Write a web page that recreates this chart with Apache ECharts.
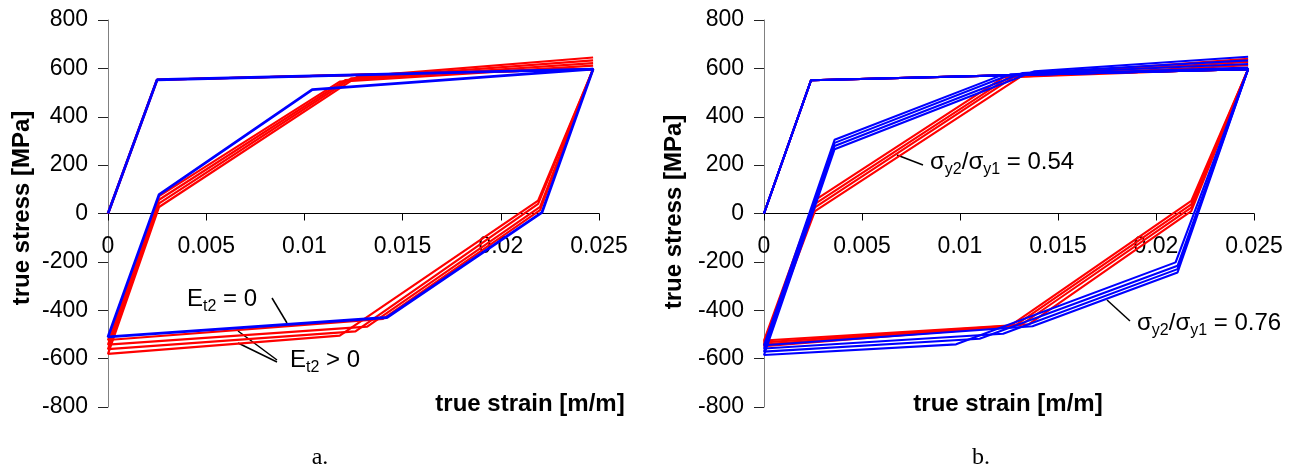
<!DOCTYPE html>
<html><head><meta charset="utf-8">
<script src="https://cdn.jsdelivr.net/npm/echarts@6/dist/echarts.min.js"></script>
<style>html,body{margin:0;padding:0;background:#fff}#c{width:1299px;height:472px}</style>
</head><body><div id="c"></div>
<script>
// tick labels
const xTickLabels = ['0', '0.005', '0.01', '0.015', '0.02', '0.025'];
const yTickLabels = ['-800', '-600', '-400', '-200', '0', '200', '400', '600', '800'];

// chart a: [true strain, true stress] points, Et2 = 0 (blue) and Et2 > 0 (red)
const aBlue = [[0,0],[0.0025,553],[0.0247,597],[0.0221,5],[0.0142,-430],[0,-510],[0.0026,78],[0.0104,512],[0.0247,597]];
const aRed1 = [[0,0],[0.0025,553],[0.0247,597],[0.0220,14],[0.0140,-436],[0,-523],[0.0026,72],[0.0118,545],[0.0247,611]];
const aRed2 = [[0,0],[0.0025,553],[0.0247,597],[0.0220,27],[0.0132,-468],[0,-542],[0.0026,57],[0.0121,552],[0.0247,622]];
const aRed3 = [[0,0],[0.0025,553],[0.0247,597],[0.0219,40],[0.0126,-487],[0,-561],[0.0026,42],[0.0124,559],[0.0247,633]];
const aRed4 = [[0,0],[0.0025,553],[0.0247,597],[0.0219,53],[0.0118,-505],[0,-580],[0.0026,27],[0.0127,566],[0.0247,645]];

// chart b: sigma_y2/sigma_y1 = 0.54 (red) and 0.76 (blue)
const bRed1 = [[0,0],[0.0024,551],[0.0247,597],[0.0218,10],[0.0135,-458],[0,-525],[0.0026,55],[0.0122,562],[0.0247,600]];
const bRed2 = [[0,0],[0.0024,551],[0.0247,597],[0.0218,24],[0.0131,-461],[0,-533],[0.0026,40],[0.0125,564],[0.0247,613]];
const bRed3 = [[0,0],[0.0024,551],[0.0247,597],[0.0218,38],[0.0128,-464],[0,-541],[0.0026,25],[0.0128,568],[0.0247,627]];
const bRed4 = [[0,0],[0.0024,551],[0.0247,597],[0.0218,52],[0.0125,-468],[0,-549],[0.0026,10],[0.0132,571],[0.0247,640]];
const bBlue1 = [[0,0],[0.0024,551],[0.0247,597],[0.0211,-244],[0.0137,-466],[0,-545],[0.0036,305],[0.0121,571],[0.0247,603]];
const bBlue2 = [[0,0],[0.0024,551],[0.0247,597],[0.0211,-230],[0.0122,-497],[0,-558],[0.0036,292],[0.0126,576],[0.0247,618]];
const bBlue3 = [[0,0],[0.0024,551],[0.0247,597],[0.0211,-216],[0.0110,-518],[0,-571],[0.0036,279],[0.0132,581],[0.0247,633]];
const bBlue4 = [[0,0],[0.0024,551],[0.0247,597],[0.0210,-202],[0.0098,-541],[0,-585],[0.0036,266],[0.0138,588],[0.0247,648]];

const RED = '#ff0000', BLUE = '#0000ff';
const FONT = '"Liberation Sans", Arial, sans-serif';

function xAx(i) {
  return {
    gridIndex: i, type: 'value', min: 0, max: 0.025, interval: 0.005,
    position: 'bottom', offset: -193.5,
    axisLine: { onZero: false, lineStyle: { color: '#000', width: 1 } },
    axisTick: { show: true, length: 7, lineStyle: { color: '#000' } },
    axisLabel: { fontSize: 23, fontFamily: FONT, color: '#000', margin: 22,
      formatter: v => xTickLabels[Math.round(v / 0.005)] },
    splitLine: { show: false }
  };
}
function yAx(i) {
  return {
    gridIndex: i, type: 'value', min: -800, max: 800, interval: 200,
    axisLine: { show: true, onZero: false, lineStyle: { color: '#808080', width: 1 } },
    axisTick: { show: true, length: 10, lineStyle: { color: '#222' } },
    axisLabel: { fontSize: 23, fontFamily: FONT, color: '#000', margin: 20,
      formatter: v => yTickLabels[Math.round((v + 800) / 200)] },
    splitLine: { show: false }
  };
}
function ln(data, color, gi, w) {
  return { type: 'line', xAxisIndex: gi, yAxisIndex: gi, data: data, showSymbol: false, symbol: 'none',
    silent: true, lineStyle: { color: color, width: w }, z: color === BLUE ? 3 : 2 };
}

const series = [
  ln(aRed4, RED, 0, 2.2), ln(aRed3, RED, 0, 2.2), ln(aRed2, RED, 0, 2.2), ln(aRed1, RED, 0, 2.2), ln(aBlue, BLUE, 0, 2.8),
  ln(bRed4, RED, 1, 2.1), ln(bRed3, RED, 1, 2.1), ln(bRed2, RED, 1, 2.1), ln(bRed1, RED, 1, 2.1),
  ln(bBlue4, BLUE, 1, 2.1), ln(bBlue3, BLUE, 1, 2.1), ln(bBlue2, BLUE, 1, 2.1), ln(bBlue1, BLUE, 1, 2.1)
];

const rich = {
  n: { fontSize: 24, fontFamily: FONT, lineHeight: 32, color: '#000' },
  s: { fontSize: 16, fontFamily: FONT, lineHeight: 16, verticalAlign: 'bottom', color: '#000' }
};
function label(x, y, text) {
  return { type: 'text', x: x, y: y, silent: true,
    style: { text: text, rich: rich, align: 'left', verticalAlign: 'middle', fill: '#000' } };
}
function seg(x1, y1, x2, y2) {
  return { type: 'line', silent: true, shape: { x1, y1, x2, y2 }, style: { stroke: '#000', lineWidth: 1.5 } };
}
function title(x, y, text, rot) {
  return { type: 'text', x: x, y: y, rotation: rot, silent: true,
    style: { text: text, font: 'bold 24px ' + FONT, fill: '#000', align: 'center', verticalAlign: 'middle' } };
}

const graphic = [
  title(22, 208, 'true stress [MPa]', Math.PI / 2),
  title(674, 212, 'true stress [MPa]', Math.PI / 2),
  title(530, 404, 'true strain [m/m]', 0),
  title(1008, 404, 'true strain [m/m]', 0),
  { type: 'text', x: 320, y: 458, silent: true, style: { text: 'a.', font: '24px "Liberation Serif", serif', fill: '#000', align: 'center', verticalAlign: 'middle' } },
  { type: 'text', x: 981, y: 458, silent: true, style: { text: 'b.', font: '24px "Liberation Serif", serif', fill: '#000', align: 'center', verticalAlign: 'middle' } },
  label(187, 299, '{n|E}{s|t2}{n| = 0}'),
  label(290, 360, '{n|E}{s|t2}{n| > 0}'),
  label(930, 162, '{n|σ}{s|y2}{n|/σ}{s|y1}{n| = 0.54}'),
  label(1137, 323, '{n|σ}{s|y2}{n|/σ}{s|y1}{n| = 0.76}'),
  seg(272, 298, 287, 323),
  seg(277, 360, 238, 331),
  seg(277, 362, 238, 343),
  seg(897, 155, 923, 165),
  seg(1107, 300, 1130, 321)
];

const chart = echarts.init(document.getElementById('c'), null, { renderer: 'canvas' });
chart.setOption({
  animation: false,
  backgroundColor: '#fff',
  grid: [
    { left: 108, top: 20, width: 491, height: 387, containLabel: false, outerBoundsMode: 'none' },
    { left: 764, top: 20, width: 490, height: 387, containLabel: false, outerBoundsMode: 'none' }
  ],
  xAxis: [xAx(0), xAx(1)],
  yAxis: [yAx(0), yAx(1)],
  series: series,
  graphic: graphic
});
</script>
</body></html>
